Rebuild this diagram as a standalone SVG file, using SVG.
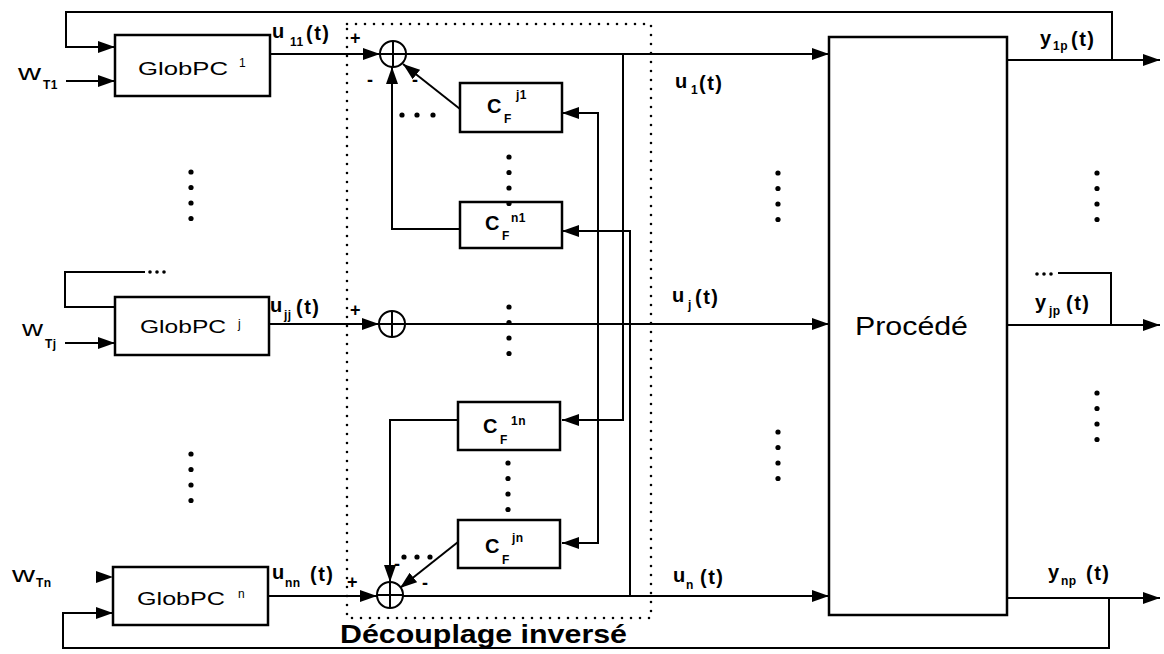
<svg xmlns="http://www.w3.org/2000/svg" width="1164" height="654" viewBox="0 0 1164 654">
<style>
.box{fill:#fff;stroke:#000;stroke-width:2.5}
.ln{fill:none;stroke:#000;stroke-width:2}
.arr{fill:none;stroke:#000;stroke-width:2;marker-end:url(#ah)}
.dotbox{fill:none;stroke:#000;stroke-width:2.6;stroke-dasharray:0 9;stroke-linecap:round}
.sum{fill:#fff;stroke:#000;stroke-width:2}
text{font-family:"Liberation Sans",Arial,sans-serif;fill:#000}
.lb{font-size:20px;font-weight:bold;letter-spacing:1.5px}
.sb{font-size:12px;font-weight:bold;letter-spacing:0.5px}
.gp{font-size:19px}
.sup{font-size:12px}
.w{font-size:22px}
.sg{font-size:18px;font-weight:bold}
.dot{fill:#000}
</style>
<defs>
<marker id="ah" viewBox="0 0 17 12" refX="17" refY="6" markerWidth="17" markerHeight="12" markerUnits="userSpaceOnUse" orient="auto"><path d="M0,0 L17,6 L0,12 Z"/></marker>
<g id="vdots"><circle cx="0" cy="0" r="2.6"/><circle cx="0" cy="15.5" r="2.6"/><circle cx="0" cy="31" r="2.6"/><circle cx="0" cy="46.5" r="2.6"/></g>
</defs>

<rect class="dotbox" x="347" y="24" width="304" height="594"/>

<g id="connectors">
<path class="arr" d="M1112,60 V12 H66 V47 H115"/>
<path class="arr" d="M66,81 H115"/>
<path class="arr" d="M270,54 H380"/>
<path class="arr" d="M406,54 H829"/>
<path class="arr" d="M460,229 H392 V67"/>
<path class="arr" d="M460,109 L403,64"/>
<path class="arr" d="M598,324 V113 H562"/>
<path class="arr" d="M598,324 V543 H562"/>
<path class="arr" d="M623,54 V420 H562"/>
<path class="arr" d="M630,596 V231 H562"/>
<path class="ln" d="M145,272 H65 V307 H115"/>
<path class="arr" d="M65,343 H115"/>
<path class="arr" d="M269,324 H379"/>
<path class="arr" d="M405,324 H829"/>
<path class="arr" d="M268,596 H377"/>
<path class="arr" d="M403,596 H829"/>
<path class="arr" d="M458,420 H390 V582"/>
<path class="arr" d="M458,542 L400,588"/>
<path d="M96,571 L113,577 L96,583 Z"/>
<path class="arr" d="M1109,598 V648 H63 V613 H113"/>
<path class="arr" d="M1007,60 H1160"/>
<path class="arr" d="M1007,325 H1160"/>
<path class="ln" d="M1111,325 V273 H1058"/>
<path class="arr" d="M1007,598 H1160"/>
</g>

<g id="sum1"><circle class="sum" cx="393" cy="54" r="13"/><path class="ln" d="M380,54 H406 M393,41 V67"/></g>
<g id="sumj"><circle class="sum" cx="392" cy="324" r="13"/><path class="ln" d="M379,324 H405 M392,311 V337"/></g>
<g id="sumn"><circle class="sum" cx="390" cy="595" r="13"/><path class="ln" d="M377,595 H403 M390,582 V608"/></g>

<g id="globpc1"><rect class="box" x="115" y="35" width="155" height="61"/><text class="gp" x="138" y="75" textLength="90" lengthAdjust="spacingAndGlyphs">GlobPC</text><text class="sup" x="239" y="67">1</text></g>
<g id="globpcj"><rect class="box" x="115" y="297" width="154" height="58"/><text class="gp" x="140" y="333" textLength="86" lengthAdjust="spacingAndGlyphs">GlobPC</text><text class="sup" x="238" y="328">j</text></g>
<g id="globpcn"><rect class="box" x="113" y="567" width="155" height="58"/><text class="gp" x="137" y="605" textLength="88" lengthAdjust="spacingAndGlyphs">GlobPC</text><text class="sup" x="238" y="598">n</text></g>

<g id="cfj1"><rect class="box" x="460" y="83" width="102" height="49"/><text class="lb" x="487" y="113">C</text><text class="sb" x="504" y="123">F</text><text class="sb" x="516" y="99">j1</text></g>
<g id="cfn1"><rect class="box" x="460" y="202" width="102" height="46"/><text class="lb" x="485" y="230">C</text><text class="sb" x="502" y="240">F</text><text class="sb" x="511" y="222">n1</text></g>
<g id="cf1n"><rect class="box" x="458" y="402" width="102" height="48"/><text class="lb" x="483" y="433">C</text><text class="sb" x="500" y="444">F</text><text class="sb" x="511" y="425">1n</text></g>
<g id="cfjn"><rect class="box" x="458" y="520" width="102" height="48"/><text class="lb" x="485" y="553">C</text><text class="sb" x="502" y="564">F</text><text class="sb" x="512" y="542">jn</text></g>

<g id="procede"><rect class="box" x="829" y="37" width="178" height="578"/><text x="855" y="335" font-size="26" textLength="113" lengthAdjust="spacingAndGlyphs">Procédé</text></g>

<text class="lb" x="272" y="38">u<tspan class="sb" x="290" y="46">11</tspan><tspan x="306" y="40">(t)</tspan></text>
<text class="lb" x="270" y="312">u<tspan class="sb" x="284" y="319">jj</tspan><tspan x="296" y="314">(t)</tspan></text>
<text class="lb" x="272" y="579">u<tspan class="sb" x="285" y="587">nn</tspan><tspan x="310" y="581">(t)</tspan></text>
<text class="lb" x="675" y="88">u<tspan class="sb" x="691" y="94">1</tspan><tspan x="699" y="90">(t)</tspan></text>
<text class="lb" x="672" y="302">u<tspan class="sb" x="688" y="309">j</tspan><tspan x="695" y="304">(t)</tspan></text>
<text class="lb" x="673" y="582">u<tspan class="sb" x="686" y="589">n</tspan><tspan x="700" y="584">(t)</tspan></text>
<text class="lb" x="1040" y="45">y<tspan class="sb" x="1053" y="50">1p</tspan><tspan x="1071" y="46">(t)</tspan></text>
<text class="lb" x="1035" y="309">y<tspan class="sb" x="1049" y="315">jp</tspan><tspan x="1066" y="310">(t)</tspan></text>
<text class="lb" x="1048" y="579">y<tspan class="sb" x="1061" y="585">np</tspan><tspan x="1086" y="580">(t)</tspan></text>

<text class="w" x="18" y="80" textLength="23" lengthAdjust="spacingAndGlyphs">w</text><text class="sb" x="43" y="89">T1</text>
<text class="w" x="22" y="336" textLength="21" lengthAdjust="spacingAndGlyphs">w</text><text class="sb" x="45" y="348">Tj</text>
<text class="w" x="12" y="582" textLength="23" lengthAdjust="spacingAndGlyphs">w</text><text class="sb" x="36" y="587">Tn</text>

<text class="sg" x="350" y="44">+</text>
<text class="sg" x="367" y="86">-</text>
<text class="sg" x="412" y="86">-</text>
<text class="sg" x="350" y="316">+</text>
<text class="sg" x="347" y="588">+</text>
<text class="sg" x="394" y="570">-</text>
<text class="sg" x="422" y="589">-</text>

<text x="340" y="643" font-size="25" font-weight="bold" textLength="287" lengthAdjust="spacingAndGlyphs">Découplage inversé</text>

<g class="dot">
<circle cx="402" cy="115" r="2.6"/><circle cx="417" cy="115" r="2.6"/><circle cx="433" cy="115" r="2.6"/>
<circle cx="404" cy="557" r="2.6"/><circle cx="417" cy="557" r="2.6"/><circle cx="430" cy="557" r="2.6"/>
<circle cx="150" cy="272" r="1.8"/><circle cx="157" cy="272" r="1.8"/><circle cx="164" cy="272" r="1.8"/>
<circle cx="1037" cy="274" r="1.8"/><circle cx="1044" cy="274" r="1.8"/><circle cx="1051" cy="274" r="1.8"/>
<use href="#vdots" x="191" y="172"/>
<use href="#vdots" x="191" y="454"/>
<use href="#vdots" x="509" y="157"/>
<use href="#vdots" x="509" y="307"/>
<use href="#vdots" x="508" y="463"/>
<use href="#vdots" x="778" y="173"/>
<use href="#vdots" x="778" y="432"/>
<use href="#vdots" x="1097" y="173"/>
<use href="#vdots" x="1097" y="393"/>
</g>
</svg>
